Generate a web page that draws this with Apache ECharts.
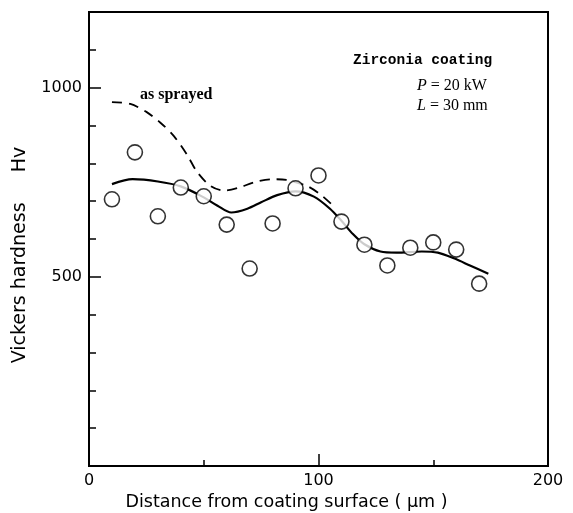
<!DOCTYPE html>
<html>
<head>
    <meta charset="UTF-8">
    <title>Vickers hardness - Zirconia coating</title>
    <script src="https://cdn.jsdelivr.net/npm/echarts@6/dist/echarts.min.js"></script>
    <style>
        html, body { margin: 0; padding: 0; background: #fff; }
    </style>
</head>
<body>
    <div id="main" style="width: 573px; height: 513px;"></div>

    <script>
        // measured hardness points (distance um, Hv)
        var pointX = [10, 20, 30, 40, 50, 60, 70, 80, 90, 100, 110, 120, 130, 140, 150, 160, 170];
        var pointY = [705, 829, 660, 736, 713, 638, 522, 641, 734, 768, 646, 585, 530, 577, 591, 572, 482];

        // fitted curve (solid)
        var fitX = [10, 19, 30, 40, 50, 56, 62, 69, 75, 82, 90, 98, 105, 110, 115, 120, 127, 134, 145, 152, 159, 166, 174];
        var fitY = [745, 758, 752, 739, 710, 688, 670, 680, 697, 716, 726, 712, 680, 648, 613, 586, 567, 564, 567, 564, 549, 530, 508];

        // as sprayed curve (dashed)
        var sprayX = [10, 18, 25, 31, 37, 43, 47, 53, 59, 65, 72, 80, 86, 95, 101, 106];
        var sprayY = [962, 957, 936, 908, 872, 820, 778, 740, 728, 735, 750, 758, 756, 740, 717, 690];

        var yLabels = [500, 1000];
        var xLabels = [0, 100, 200];

        function pairs(xs, ys) {
            var out = [];
            for (var i = 0; i < xs.length; i++) out.push([xs[i], ys[i]]);
            return out;
        }

        var chart = echarts.init(document.getElementById('main'));

        var option = {
            animation: false,
            backgroundColor: '#fff',
            grid: {
                left: 89, right: 25, top: 12, bottom: 47,
                outerBoundsMode: 'none',
                containLabel: false,
                show: true,
                borderColor: '#000',
                borderWidth: 2,
                backgroundColor: 'transparent'
            },
            xAxis: {
                type: 'value',
                min: 0, max: 200, interval: 100,
                name: 'Distance from coating surface ( \u03bcm )',
                nameLocation: 'middle',
                nameGap: 23,
                nameTextStyle: { fontFamily: 'DejaVu Sans', fontSize: 17.5, color: '#000', padding: [0, 64, 0, 0] },
                axisLine: { lineStyle: { color: '#000', width: 2 } },
                axisTick: { inside: true, length: 12, lineStyle: { color: '#000', width: 1.5 } },
                minorTick: { show: true, splitNumber: 2, length: 6, lineStyle: { color: '#000', width: 1.5 } },
                splitLine: { show: false },
                axisLabel: {
                    fontFamily: 'DejaVu Sans', fontSize: 16, color: '#000', margin: 7,
                    formatter: function (v) { return xLabels.indexOf(v) >= 0 ? String(v) : ''; }
                }
            },
            yAxis: {
                type: 'value',
                min: 0, max: 1200, interval: 500,
                name: 'Vickers hardness     Hv',
                nameLocation: 'middle',
                nameGap: 59,
                nameTextStyle: { fontFamily: 'DejaVu Sans', fontSize: 19, color: '#000', padding: [0, 32, 0, 0] },
                axisLine: { lineStyle: { color: '#000', width: 2 } },
                axisTick: { inside: true, length: 12, lineStyle: { color: '#000', width: 1.5 } },
                minorTick: { show: true, splitNumber: 5, length: 7, lineStyle: { color: '#000', width: 1.5 } },
                splitLine: { show: false },
                axisLabel: {
                    fontFamily: 'DejaVu Sans', fontSize: 16, color: '#000', margin: 7,
                    formatter: function (v) { return yLabels.indexOf(v) >= 0 ? String(v) : ''; }
                }
            },
            graphic: [
                {
                    type: 'text', left: 140, top: 87,
                    style: { text: 'as sprayed', font: 'bold 16px "Liberation Serif"', fill: '#000' }
                },
                {
                    type: 'text', left: 353, top: 53,
                    style: { text: 'Zirconia coating', font: 'bold 14.5px "Liberation Mono"', fill: '#000' }
                },
                {
                    type: 'text', left: 417, top: 78,
                    style: {
                        text: '{i|P} = 20 kW',
                        font: '16px "Liberation Serif"', fill: '#000',
                        rich: { i: { fontStyle: 'italic', fontFamily: 'Liberation Serif', fontSize: 16, fill: '#000' } }
                    }
                },
                {
                    type: 'text', left: 417, top: 98,
                    style: {
                        text: '{i|L} = 30 mm',
                        font: '16px "Liberation Serif"', fill: '#000',
                        rich: { i: { fontStyle: 'italic', fontFamily: 'Liberation Serif', fontSize: 16, fill: '#000' } }
                    }
                }
            ],
            series: [
                {
                    type: 'line',
                    data: pairs(sprayX, sprayY),
                    smooth: 0.3,
                    showSymbol: false,
                    lineStyle: { color: '#000', width: 1.8, type: [10, 7] },
                    z: 2
                },
                {
                    type: 'line',
                    data: pairs(fitX, fitY),
                    smooth: 0.3,
                    showSymbol: false,
                    lineStyle: { color: '#000', width: 2.2 },
                    z: 3
                },
                {
                    type: 'scatter',
                    data: pairs(pointX, pointY),
                    symbol: 'circle',
                    symbolSize: 15,
                    itemStyle: { color: '#fff', borderColor: '#000', borderWidth: 1.6 },
                    z: 5
                }
            ]
        };

        chart.setOption(option);
    </script>
</body>
</html>
